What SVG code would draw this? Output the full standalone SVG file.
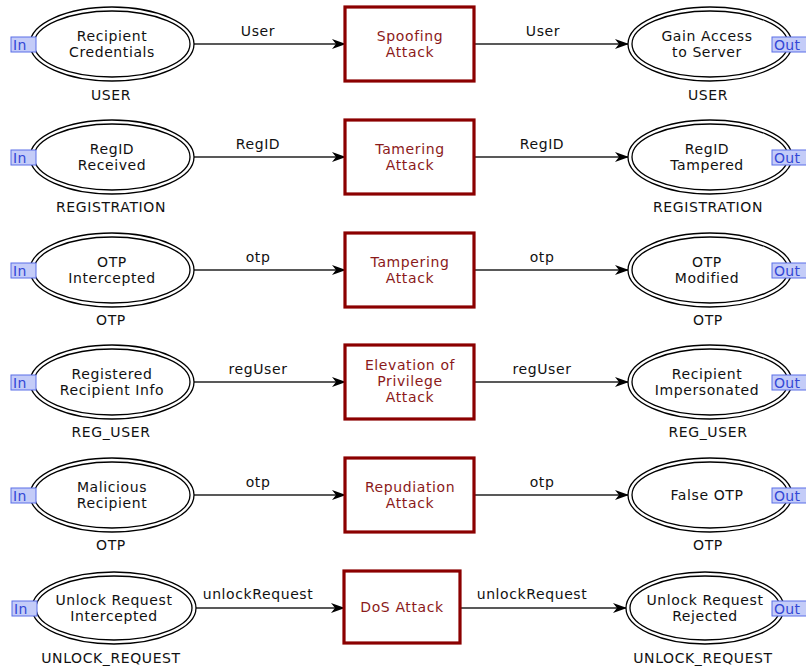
<svg xmlns="http://www.w3.org/2000/svg" width="806" height="670" viewBox="0 0 806 670">
  <defs>
    <marker id="arrow" viewBox="0 0 14 10" refX="13" refY="5" markerWidth="14" markerHeight="10" markerUnits="userSpaceOnUse" orient="auto">
      <path d="M0,0 L14,5 L0,10 L4,5 z" fill="#000"/>
    </marker>
  </defs>
  <style>
    text { font-family: "DejaVu Sans", "Liberation Sans", sans-serif; font-size: 14px; letter-spacing: 0.6px; }
    .place { fill: #fff; stroke: #000; stroke-width: 1.3; }
    .inner { fill: none; stroke: #000; stroke-width: 1.3; }
    .pt { fill: #111; text-anchor: middle; }
    .trans { fill: #fff; stroke: #8b0000; stroke-width: 3.2; }
    .tt { fill: #8b1a1a; text-anchor: middle; }
    .port { fill: #c4ccf8; stroke: #5a6ee8; stroke-width: 1; }
    .portt { fill: #3347d6; font-size: 14px; letter-spacing: 0.3px; }
    .arc { stroke: #222; stroke-width: 1.5; fill: none; marker-end: url(#arrow); }
    .al { fill: #111; text-anchor: middle; }
  </style>
  <rect width="806" height="670" fill="#fff"/>

  <!-- arcs -->
  <g id="arcs">
    <line class="arc" x1="194" y1="44" x2="345" y2="44"/>
    <line class="arc" x1="474" y1="44" x2="628" y2="44"/>
    <text class="al" x="258" y="36">User</text>
    <text class="al" x="543" y="36">User</text>

    <line class="arc" x1="194" y1="157" x2="345" y2="157"/>
    <line class="arc" x1="474" y1="157" x2="628" y2="157"/>
    <text class="al" x="258" y="149">RegID</text>
    <text class="al" x="542" y="149">RegID</text>

    <line class="arc" x1="194" y1="270" x2="345" y2="270"/>
    <line class="arc" x1="474" y1="270" x2="628" y2="270"/>
    <text class="al" x="258" y="262">otp</text>
    <text class="al" x="542" y="262">otp</text>

    <line class="arc" x1="194" y1="382" x2="345" y2="382"/>
    <line class="arc" x1="474" y1="382" x2="628" y2="382"/>
    <text class="al" x="258" y="374">regUser</text>
    <text class="al" x="542" y="374">regUser</text>

    <line class="arc" x1="194" y1="495" x2="345" y2="495"/>
    <line class="arc" x1="474" y1="495" x2="628" y2="495"/>
    <text class="al" x="258" y="487">otp</text>
    <text class="al" x="542" y="487">otp</text>

    <line class="arc" x1="196" y1="608" x2="344" y2="608"/>
    <line class="arc" x1="460" y1="608" x2="626" y2="608"/>
    <text class="al" x="258" y="599">unlockRequest</text>
    <text class="al" x="532" y="599">unlockRequest</text>
  </g>

  <!-- row 1 -->
  <g id="recipient-credentials">
    <ellipse class="place" cx="112" cy="44" rx="82" ry="37"/>
    <ellipse class="inner" cx="112" cy="44" rx="78" ry="33"/>
    <text class="pt" x="112" y="41">Recipient</text>
    <text class="pt" x="112" y="57">Credentials</text>
    <text class="pt" x="111" y="100">USER</text>
    <rect class="port" x="11" y="37" width="25" height="15"/>
    <text class="portt" x="13" y="50">In</text>
  </g>
  <g id="spoofing-attack">
    <rect class="trans" x="345" y="7" width="129" height="74"/>
    <text class="tt" x="410" y="41">Spoofing</text>
    <text class="tt" x="410" y="57">Attack</text>
  </g>
  <g id="gain-access">
    <ellipse class="place" cx="710" cy="44" rx="82" ry="37"/>
    <ellipse class="inner" cx="710" cy="44" rx="78" ry="33"/>
    <text class="pt" x="707" y="41">Gain Access</text>
    <text class="pt" x="707" y="57">to Server</text>
    <text class="pt" x="708" y="100">USER</text>
    <rect class="port" x="772" y="37" width="35" height="15"/>
    <text class="portt" x="774" y="50">Out</text>
  </g>

  <!-- row 2 -->
  <g id="regid-received">
    <ellipse class="place" cx="112" cy="157" rx="82" ry="37"/>
    <ellipse class="inner" cx="112" cy="157" rx="78" ry="33"/>
    <text class="pt" x="112" y="154">RegID</text>
    <text class="pt" x="112" y="170">Received</text>
    <text class="pt" x="111" y="212">REGISTRATION</text>
    <rect class="port" x="11" y="150" width="25" height="15"/>
    <text class="portt" x="13" y="163">In</text>
  </g>
  <g id="tamering-attack">
    <rect class="trans" x="345" y="120" width="129" height="74"/>
    <text class="tt" x="410" y="154">Tamering</text>
    <text class="tt" x="410" y="170">Attack</text>
  </g>
  <g id="regid-tampered">
    <ellipse class="place" cx="710" cy="157" rx="82" ry="37"/>
    <ellipse class="inner" cx="710" cy="157" rx="78" ry="33"/>
    <text class="pt" x="707" y="154">RegID</text>
    <text class="pt" x="707" y="170">Tampered</text>
    <text class="pt" x="708" y="212">REGISTRATION</text>
    <rect class="port" x="772" y="150" width="35" height="15"/>
    <text class="portt" x="774" y="163">Out</text>
  </g>

  <!-- row 3 -->
  <g id="otp-intercepted">
    <ellipse class="place" cx="112" cy="270" rx="82" ry="37"/>
    <ellipse class="inner" cx="112" cy="270" rx="78" ry="33"/>
    <text class="pt" x="112" y="267">OTP</text>
    <text class="pt" x="112" y="283">Intercepted</text>
    <text class="pt" x="111" y="325">OTP</text>
    <rect class="port" x="11" y="263" width="25" height="15"/>
    <text class="portt" x="13" y="276">In</text>
  </g>
  <g id="tampering-attack">
    <rect class="trans" x="345" y="233" width="129" height="74"/>
    <text class="tt" x="410" y="267">Tampering</text>
    <text class="tt" x="410" y="283">Attack</text>
  </g>
  <g id="otp-modified">
    <ellipse class="place" cx="710" cy="270" rx="82" ry="37"/>
    <ellipse class="inner" cx="710" cy="270" rx="78" ry="33"/>
    <text class="pt" x="707" y="267">OTP</text>
    <text class="pt" x="707" y="283">Modified</text>
    <text class="pt" x="708" y="325">OTP</text>
    <rect class="port" x="772" y="263" width="35" height="15"/>
    <text class="portt" x="774" y="276">Out</text>
  </g>

  <!-- row 4 -->
  <g id="registered-recipient-info">
    <ellipse class="place" cx="112" cy="382" rx="82" ry="37"/>
    <ellipse class="inner" cx="112" cy="382" rx="78" ry="33"/>
    <text class="pt" x="112" y="379">Registered</text>
    <text class="pt" x="112" y="395">Recipient Info</text>
    <text class="pt" x="111" y="437">REG_USER</text>
    <rect class="port" x="11" y="375" width="25" height="15"/>
    <text class="portt" x="13" y="388">In</text>
  </g>
  <g id="elevation-attack">
    <rect class="trans" x="345" y="345" width="129" height="74"/>
    <text class="tt" x="410" y="370">Elevation of</text>
    <text class="tt" x="410" y="386">Privilege</text>
    <text class="tt" x="410" y="402">Attack</text>
  </g>
  <g id="recipient-impersonated">
    <ellipse class="place" cx="710" cy="382" rx="82" ry="37"/>
    <ellipse class="inner" cx="710" cy="382" rx="78" ry="33"/>
    <text class="pt" x="707" y="379">Recipient</text>
    <text class="pt" x="707" y="395">Impersonated</text>
    <text class="pt" x="708" y="437">REG_USER</text>
    <rect class="port" x="772" y="375" width="35" height="15"/>
    <text class="portt" x="774" y="388">Out</text>
  </g>

  <!-- row 5 -->
  <g id="malicious-recipient">
    <ellipse class="place" cx="112" cy="495" rx="82" ry="37"/>
    <ellipse class="inner" cx="112" cy="495" rx="78" ry="33"/>
    <text class="pt" x="112" y="492">Malicious</text>
    <text class="pt" x="112" y="508">Recipient</text>
    <text class="pt" x="111" y="550">OTP</text>
    <rect class="port" x="11" y="488" width="25" height="15"/>
    <text class="portt" x="13" y="501">In</text>
  </g>
  <g id="repudiation-attack">
    <rect class="trans" x="345" y="458" width="129" height="74"/>
    <text class="tt" x="410" y="492">Repudiation</text>
    <text class="tt" x="410" y="508">Attack</text>
  </g>
  <g id="false-otp">
    <ellipse class="place" cx="710" cy="495" rx="82" ry="37"/>
    <ellipse class="inner" cx="710" cy="495" rx="78" ry="33"/>
    <text class="pt" x="707" y="500">False OTP</text>
    <text class="pt" x="708" y="550">OTP</text>
    <rect class="port" x="772" y="488" width="35" height="15"/>
    <text class="portt" x="774" y="501">Out</text>
  </g>

  <!-- row 6 -->
  <g id="unlock-request-intercepted">
    <ellipse class="place" cx="114" cy="608" rx="82" ry="36"/>
    <ellipse class="inner" cx="114" cy="608" rx="78" ry="32"/>
    <text class="pt" x="114" y="605">Unlock Request</text>
    <text class="pt" x="114" y="621">Intercepted</text>
    <text class="pt" x="111" y="663">UNLOCK_REQUEST</text>
    <rect class="port" x="12" y="601" width="25" height="15"/>
    <text class="portt" x="14" y="614">In</text>
  </g>
  <g id="dos-attack">
    <rect class="trans" x="344" y="571" width="116" height="72"/>
    <text class="tt" x="402" y="612">DoS Attack</text>
  </g>
  <g id="unlock-request-rejected">
    <ellipse class="place" cx="705" cy="608" rx="79" ry="36"/>
    <ellipse class="inner" cx="705" cy="608" rx="75" ry="32"/>
    <text class="pt" x="705" y="605">Unlock Request</text>
    <text class="pt" x="705" y="621">Rejected</text>
    <text class="pt" x="703" y="663">UNLOCK_REQUEST</text>
    <rect class="port" x="772" y="601" width="35" height="15"/>
    <text class="portt" x="774" y="614">Out</text>
  </g>
</svg>
